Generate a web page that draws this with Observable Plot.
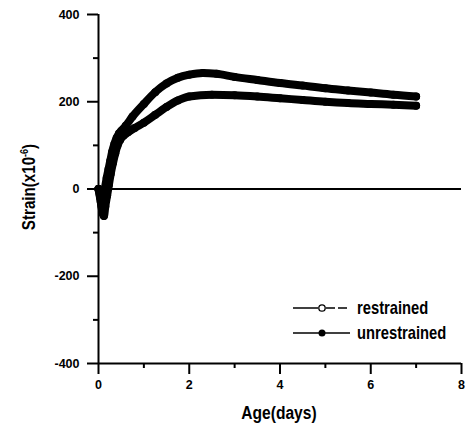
<!DOCTYPE html>
<html><head><meta charset="utf-8">
<script src="https://cdn.jsdelivr.net/npm/d3@7"></script>
<script src="https://cdn.jsdelivr.net/npm/@observablehq/plot@0.6"></script>
<style>
body{margin:0;background:#fff}
svg{font-family:"Liberation Sans","Arial",sans-serif}
</style>
</head><body><div id="chart"></div>
<script>
const seriesNames = ["restrained", "unrestrained"];

const ageUnrestrained = [0, 0.04, 0.08, 0.11, 0.14, 0.18, 0.22, 0.26, 0.3, 0.35, 0.4, 0.45, 0.5, 0.6, 0.75, 1.0, 1.25, 1.5, 1.75, 2.0, 2.3, 2.6, 3.0, 3.5, 4.0, 4.5, 5.0, 5.5, 6.0, 6.5, 7.0];
const strainUnrestrained = [0, -20, -45, -30, 0, 25, 45, 65, 85, 103, 117, 127, 133, 145, 166, 195, 222, 242, 255, 262, 266, 264, 257, 250, 243, 237, 231, 226, 221, 216, 212];

const ageRestrained = [0, 0.05, 0.09, 0.12, 0.15, 0.19, 0.23, 0.27, 0.32, 0.37, 0.42, 0.48, 0.55, 0.65, 0.8, 1.0, 1.25, 1.5, 1.75, 2.0, 2.5, 3.0, 3.5, 4.0, 4.5, 5.0, 5.5, 6.0, 6.5, 7.0];
const strainRestrained = [0, -30, -55, -62, -40, -15, 10, 35, 60, 82, 100, 113, 122, 130, 140, 152, 170, 188, 203, 212, 216, 215, 212, 208, 204, 200, 197, 195, 193, 191];

const xMajorTicks = [0, 2, 4, 6, 8];
const xMinorTicks = [1, 3, 5, 7];
const yMajorTicks = [-400, -200, 0, 200, 400];
const yMinorTicks = [-300, -100, 100, 300];

const unrestrained = ageUnrestrained.map((a, i) => ({age: a, strain: strainUnrestrained[i], series: seriesNames[1]}));
const restrained = ageRestrained.map((a, i) => ({age: a, strain: strainRestrained[i], series: seriesNames[0]}));

const plot = Plot.plot({
  width: 468,
  height: 423,
  marginLeft: 98,
  marginRight: 7,
  marginTop: 14,
  marginBottom: 60,
  x: {domain: [0, 8]},
  y: {domain: [-400, 400]},
  marks: [
    Plot.ruleY([0], {stroke: "black", strokeWidth: 2}),
    Plot.ruleX([0], {stroke: "black", strokeWidth: 2}),
    Plot.ruleY([-400], {stroke: "black", strokeWidth: 2}),
    Plot.axisX({ticks: xMajorTicks, tickSize: 11, tickPadding: 6, strokeWidth: 2, fontSize: 12.5, fontWeight: "bold", label: null, tickFormat: d => String(d)}),
    Plot.axisX({ticks: xMinorTicks, tickSize: 5, strokeWidth: 2, tickFormat: () => "", label: null}),
    Plot.axisY({ticks: yMajorTicks, tickSize: 11, tickPadding: 8, strokeWidth: 2, fontSize: 12.5, fontWeight: "bold", label: null, tickFormat: d => String(d)}),
    Plot.axisY({ticks: yMinorTicks, tickSize: 5, strokeWidth: 2, tickFormat: () => "", label: null}),
    Plot.line(restrained, {x: "age", y: "strain", stroke: "black", strokeWidth: 8, curve: "monotone-x"}),
    Plot.dot(restrained, {x: "age", y: "strain", r: 4, fill: "black"}),
    Plot.line(unrestrained, {x: "age", y: "strain", stroke: "black", strokeWidth: 8, curve: "monotone-x"}),
    Plot.dot(unrestrained, {x: "age", y: "strain", r: 4, fill: "black"})
  ]
});

const svg = d3.select(plot);
const sx = 0.82;

svg.append("text")
  .attr("transform", `translate(279,419) scale(${sx},1)`)
  .attr("text-anchor", "middle")
  .style("font-size", "19px").style("font-weight", "bold")
  .attr("fill", "black")
  .text("Age(days)");

const yl = svg.append("text")
  .attr("transform", `translate(35,187) rotate(-90) scale(${sx},1)`)
  .attr("text-anchor", "middle")
  .style("font-size", "18.5px").style("font-weight", "bold")
  .attr("fill", "black");
yl.append("tspan").text("Strain(x10");
yl.append("tspan").attr("dy", -7).style("font-size", "11px").text("-6");
yl.append("tspan").attr("dy", 7).text(")");

// legend
const lg = svg.append("g");
[[seriesNames[0], 308, true], [seriesNames[1], 333, false]].forEach(([name, y, open]) => {
  if (open) {
    lg.append("line").attr("x1", 293).attr("x2", 318).attr("y1", y).attr("y2", y).attr("stroke", "black").attr("stroke-width", 1.5);
    lg.append("line").attr("x1", 326).attr("x2", 350).attr("y1", y).attr("y2", y).attr("stroke", "black").attr("stroke-width", 1.5).attr("stroke-dasharray", "9,3");
    lg.append("circle").attr("cx", 322).attr("cy", y).attr("r", 3.2).attr("fill", "white").attr("stroke", "black").attr("stroke-width", 1.3);
  } else {
    lg.append("line").attr("x1", 293).attr("x2", 350).attr("y1", y).attr("y2", y).attr("stroke", "black").attr("stroke-width", 1.5);
    lg.append("circle").attr("cx", 322).attr("cy", y).attr("r", 3.5).attr("fill", "black");
  }
  lg.append("text")
    .attr("transform", `translate(357,${y + 6}) scale(${sx},1)`)
    .attr("text-anchor", "start")
    .style("font-size", "18px").style("font-weight", "bold")
    .attr("fill", "black").text(name);
});

document.getElementById("chart").appendChild(plot);
</script>
</body></html>
